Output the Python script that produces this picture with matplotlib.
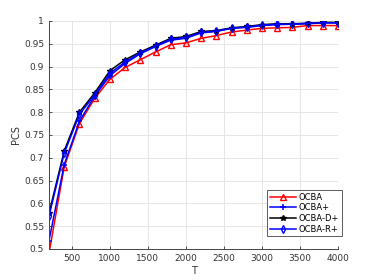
import numpy as np
import matplotlib
matplotlib.use('Agg')
import matplotlib.pyplot as plt

T = [200, 400, 600, 800, 1000, 1200, 1400, 1600, 1800, 2000,
     2200, 2400, 2600, 2800, 3000, 3200, 3400, 3600, 3800, 4000]

ocba = [0.490, 0.680, 0.775, 0.830, 0.872, 0.898, 0.915, 0.932, 0.948, 0.952,
        0.962, 0.968, 0.976, 0.980, 0.984, 0.985, 0.986, 0.990, 0.990, 0.990]
ocba_p = [0.518, 0.685, 0.780, 0.835, 0.880, 0.907, 0.928, 0.944, 0.958, 0.962,
          0.974, 0.977, 0.984, 0.986, 0.990, 0.992, 0.993, 0.994, 0.996, 0.996]
ocba_d = [0.578, 0.715, 0.800, 0.842, 0.891, 0.915, 0.932, 0.947, 0.962, 0.966,
          0.977, 0.979, 0.985, 0.988, 0.992, 0.994, 0.994, 0.995, 0.997, 0.997]
ocba_r = [0.572, 0.710, 0.795, 0.838, 0.885, 0.910, 0.930, 0.945, 0.960, 0.964,
          0.975, 0.978, 0.984, 0.987, 0.991, 0.993, 0.993, 0.995, 0.996, 0.996]

fig = plt.figure(figsize=(3.74, 2.8), dpi=100)
ax = fig.add_axes([0.131, 0.111, 0.773, 0.814])

ax.plot(T, ocba, color='red', marker='^', markersize=4, mfc='none', mew=1.0, lw=1.1, label='OCBA')
ax.plot(T, ocba_p, color='blue', marker='+', markersize=5, mew=1.1, lw=1.1, label='OCBA+')
ax.plot(T, ocba_d, color='black', marker='*', markersize=4, lw=1.1, label='OCBA-D+')
ax.plot(T, ocba_r, color='blue', marker='d', markersize=4, mfc='none', mew=1.0, lw=1.1, label='OCBA-R+')

ax.set_xlim(200, 4000)
ax.set_ylim(0.5, 1)
ax.set_xticks([500, 1000, 1500, 2000, 2500, 3000, 3500, 4000])
ax.set_yticks(np.arange(0.5, 1.001, 0.05))
ax.set_yticklabels(['0.5', '0.55', '0.6', '0.65', '0.7', '0.75', '0.8', '0.85', '0.9', '0.95', '1'])
ax.grid(True, color='#e6e6e6', lw=0.7)
ax.set_axisbelow(True)
for s in ['top', 'right']:
    ax.spines[s].set_visible(False)
for s in ['left', 'bottom']:
    ax.spines[s].set_color('#444444')
    ax.spines[s].set_linewidth(0.7)
ax.tick_params(direction='in', labelsize=6.5, colors='#333333', length=2.5, width=0.6)
ax.set_xlabel('T', fontsize=7, color='#333333', labelpad=2)
ax.set_ylabel('PCS', fontsize=7, color='#333333', labelpad=2)

leg = ax.legend(loc='upper right', bbox_to_anchor=(0.914, 0.321), bbox_transform=fig.transFigure,
                fontsize=6, frameon=True, fancybox=False,
                edgecolor='#333333', borderpad=0.3, labelspacing=0.2,
                handlelength=3.2, handletextpad=0.3, borderaxespad=0)
leg.get_frame().set_linewidth(0.7)

fig.savefig('out.png', dpi=100)
